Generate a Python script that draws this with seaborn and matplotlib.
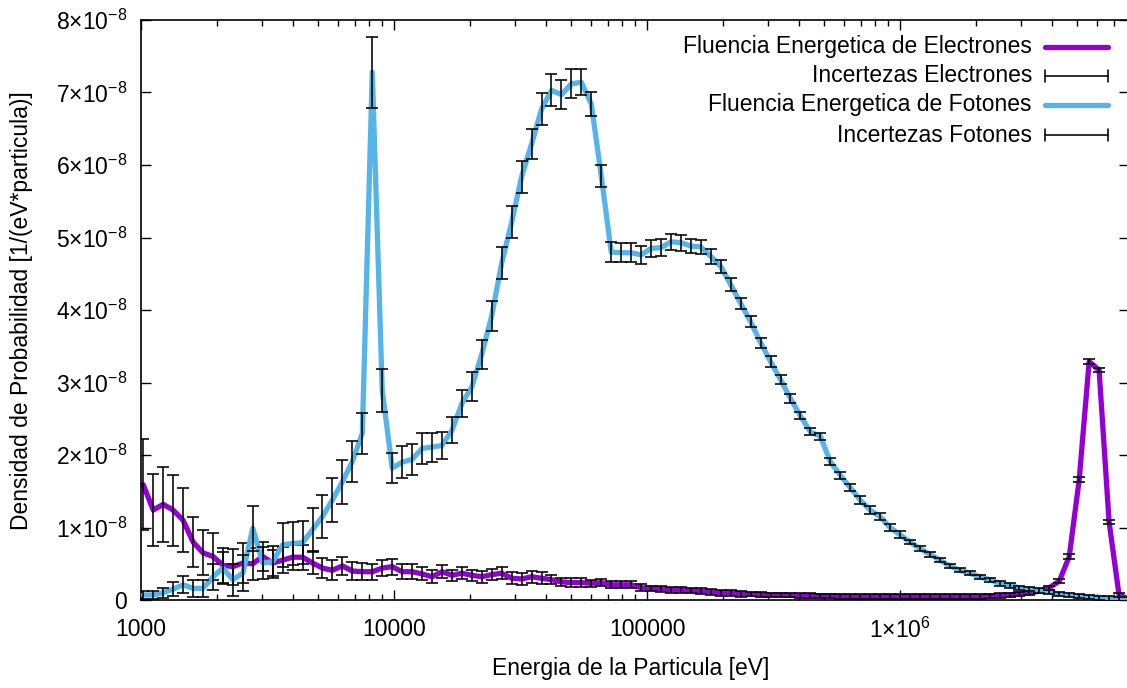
import numpy as np
import pandas as pd
import matplotlib
matplotlib.use("Agg")
import matplotlib.pyplot as plt
from matplotlib.ticker import FixedLocator, NullFormatter, LogLocator
import seaborn as sns

# Energy bins (log-spaced, eV)
energia = np.logspace(3.009, 6.905, 100)

# Photon energy fluence per bin [1e-8 / (eV * particle)]
fotones = [
    0.07, 0.07, 0.10, 0.15, 0.21, 0.16, 0.16, 0.32, 0.44, 0.28,
    0.37, 0.99, 0.51, 0.53, 0.76, 0.78, 0.79, 0.97, 1.15, 1.38,
    1.63, 1.91, 2.30, 7.28, 2.89, 1.82, 1.90, 1.94, 2.09, 2.11,
    2.13, 2.34, 2.71, 2.94, 3.39, 3.92, 4.65, 5.21, 5.84, 6.29,
    6.77, 7.03, 6.97, 7.12, 7.14, 6.84, 5.85, 4.80, 4.79, 4.79,
    4.76, 4.85, 4.86, 4.94, 4.93, 4.88, 4.87, 4.74, 4.60, 4.35,
    4.09, 3.84, 3.55, 3.29, 3.04, 2.78, 2.54, 2.32, 2.26, 1.91,
    1.72, 1.55, 1.38, 1.24, 1.15, 1.00, 0.90, 0.80, 0.71, 0.63,
    0.55, 0.47, 0.41, 0.37, 0.32, 0.28, 0.23, 0.20, 0.17, 0.15,
    0.13, 0.11, 0.08, 0.07, 0.055, 0.045, 0.03, 0.02, 0.015, 0.01,
]
err_fotones = [
    0.05, 0.05, 0.07, 0.10, 0.12, 0.12, 0.12, 0.18, 0.22, 0.22,
    0.25, 0.31, 0.22, 0.22, 0.30, 0.30, 0.30, 0.30, 0.30, 0.30,
    0.30, 0.28, 0.28, 0.49, 0.29, 0.21, 0.22, 0.21, 0.21, 0.20,
    0.19, 0.18, 0.19, 0.20, 0.20, 0.21, 0.22, 0.22, 0.22, 0.21,
    0.22, 0.22, 0.20, 0.20, 0.18, 0.17, 0.15, 0.14, 0.13, 0.13,
    0.12, 0.12, 0.12, 0.11, 0.11, 0.10, 0.10, 0.10, 0.09, 0.09,
    0.08, 0.08, 0.07, 0.07, 0.06, 0.06, 0.05, 0.05, 0.05, 0.05,
    0.05, 0.05, 0.05, 0.05, 0.05, 0.05, 0.05, 0.03, 0.03, 0.03,
    0.03, 0.03, 0.03, 0.03, 0.03, 0.03, 0.03, 0.03, 0.03, 0.03,
    0.03, 0.03, 0.03, 0.03, 0.03, 0.03, 0.03, 0.03, 0.03, 0.03,
]

# Electron energy fluence per bin [1e-8 / (eV * particle)]
electrones = [
    1.59, 1.24, 1.32, 1.24, 1.10, 0.80, 0.65, 0.60, 0.48, 0.46,
    0.51, 0.50, 0.60, 0.51, 0.55, 0.59, 0.59, 0.51, 0.44, 0.41,
    0.47, 0.40, 0.39, 0.39, 0.44, 0.46, 0.39, 0.39, 0.36, 0.32,
    0.39, 0.34, 0.37, 0.34, 0.32, 0.35, 0.37, 0.30, 0.29, 0.32,
    0.30, 0.28, 0.25, 0.24, 0.24, 0.23, 0.24, 0.21, 0.21, 0.21,
    0.17, 0.16, 0.15, 0.14, 0.14, 0.13, 0.12, 0.115, 0.10, 0.095,
    0.085, 0.08, 0.075, 0.07, 0.07, 0.065, 0.06, 0.06, 0.058, 0.055,
    0.05, 0.05, 0.05, 0.05, 0.05, 0.05, 0.05, 0.05, 0.05, 0.05,
    0.05, 0.05, 0.05, 0.05, 0.05, 0.055, 0.06, 0.07, 0.08, 0.10,
    0.12, 0.17, 0.26, 0.60, 1.66, 3.29, 3.17, 1.08, 0.07, 0.01,
]
err_electrones = [
    0.63, 0.50, 0.52, 0.49, 0.44, 0.35, 0.31, 0.33, 0.24, 0.25,
    0.28, 0.22, 0.20, 0.18, 0.18, 0.17, 0.17, 0.15, 0.14, 0.14,
    0.13, 0.12, 0.12, 0.11, 0.11, 0.11, 0.10, 0.10, 0.09, 0.09,
    0.09, 0.08, 0.08, 0.08, 0.08, 0.08, 0.08, 0.08, 0.08, 0.08,
    0.08, 0.06, 0.06, 0.06, 0.06, 0.05, 0.05, 0.05, 0.05, 0.05,
    0.05, 0.04, 0.04, 0.04, 0.04, 0.04, 0.04, 0.04, 0.04, 0.04,
    0.04, 0.03, 0.03, 0.03, 0.03, 0.03, 0.03, 0.03, 0.03, 0.03,
    0.03, 0.03, 0.03, 0.03, 0.03, 0.03, 0.03, 0.03, 0.03, 0.03,
    0.03, 0.03, 0.03, 0.03, 0.03, 0.03, 0.03, 0.03, 0.03, 0.03,
    0.03, 0.03, 0.03, 0.03, 0.03, 0.03, 0.03, 0.03, 0.03, 0.01,
]

ESCALA = 1e-8
x_ticks = [1e3, 1e4, 1e5, 1e6]
x_labels = ["1000", "10000", "100000", r"$\mathregular{1{\times}10^{6}}$"]
y_ticks = [0, 1, 2, 3, 4, 5, 6, 7, 8]

COL_E = "#9400D3"
COL_F = "#56B4E9"
FS = 16.5

sns.set_theme(style="white")
plt.rcParams["font.family"] = ["Liberation Sans", "DejaVu Sans"]
plt.rcParams["mathtext.fontset"] = "custom"
plt.rcParams["mathtext.rm"] = "Liberation Sans"
plt.rcParams["mathtext.it"] = "Liberation Sans:italic"

df = pd.DataFrame({
    "E": energia,
    "electrones": np.array(electrones) * ESCALA,
    "err_e": np.array(err_electrones) * ESCALA,
    "fotones": np.array(fotones) * ESCALA,
    "err_f": np.array(err_fotones) * ESCALA,
})

fig = plt.figure(figsize=(11.27, 6.88), dpi=100)
W, H = 1127.0, 688.0
ax = fig.add_axes([141 / W, (H - 600) / H, (1128.5 - 141) / W, 580 / H])

ebar_kw = dict(fmt="none", ecolor="black", elinewidth=1.15, capsize=4.2,
               capthick=1.15)

sns.lineplot(data=df, x="E", y="electrones", ax=ax, color=COL_E, lw=3.8,
             zorder=2)
ax.errorbar(df["E"], df["electrones"], yerr=df["err_e"], zorder=3, **ebar_kw)
sns.lineplot(data=df, x="E", y="fotones", ax=ax, color=COL_F, lw=3.8,
             zorder=4)
ax.errorbar(df["E"], df["fotones"], yerr=df["err_f"], zorder=5, **ebar_kw)

ax.set_xscale("log")
ax.set_xlim(1000, 8e6)
ax.set_ylim(0, 8e-8)

ax.xaxis.set_major_locator(FixedLocator(x_ticks))
ax.set_xticklabels(x_labels)
ax.xaxis.set_minor_locator(LogLocator(base=10, subs=np.arange(2, 10)))
ax.xaxis.set_minor_formatter(NullFormatter())

ax.set_yticks([v * ESCALA for v in y_ticks])
ax.set_yticklabels(["0"] + [r"$\mathregular{%d{\times}10^{-8}}$" % v
                            for v in y_ticks[1:]])

ax.tick_params(which="both", direction="in", top=True, right=True,
               bottom=True, left=True, colors="black", labelsize=FS)
ax.tick_params(which="major", length=7.5, width=1.0)
ax.tick_params(which="minor", length=4, width=1.0)
ax.tick_params(axis="x", which="major", pad=13)
ax.tick_params(axis="y", which="major", pad=10)
for s in ax.spines.values():
    s.set_visible(True)
    s.set_color("black")
    s.set_linewidth(1.2)

ax.set_xlabel("")
ax.set_ylabel("")
fig.text(631 / W, 1 - 668 / H, "Energia de la Particula [eV]", ha="center",
         va="center", fontsize=FS, color="black")
fig.text(22 / W, 1 - 311 / H, "Densidad de Probabilidad [1/(eV*particula)]",
         ha="center", va="center", rotation=90, fontsize=FS, color="black")

# Key in the upper right: text right-aligned, sample to its right
filas = [
    ("Fluencia Energetica de Electrones", "line", COL_E),
    ("Incertezas Electrones", "bar", "black"),
    ("Fluencia Energetica de Fotones", "line", COL_F),
    ("Incertezas Fotones", "bar", "black"),
]
y_filas = [47, 76, 105, 135]
tx = 1032
x0, x1 = 1045, 1108
for (txt, kind, col), yp in zip(filas, y_filas):
    fig.text(tx / W, 1 - yp / H, txt, ha="right", va="center", fontsize=FS,
             color="black")
    fy = 1 - yp / H
    if kind == "line":
        fig.add_artist(plt.Line2D([x0 / W, x1 / W], [fy, fy], color=col,
                                  lw=3.8, transform=fig.transFigure))
    else:
        fig.add_artist(plt.Line2D([x0 / W, x1 / W], [fy, fy], color=col,
                                  lw=1.15, transform=fig.transFigure))
        for xc in (x0, x1):
            fig.add_artist(plt.Line2D([xc / W, xc / W],
                                      [fy - 6 / H, fy + 6 / H], color=col,
                                      lw=1.15, transform=fig.transFigure))

fig.savefig("out.png", dpi=100)
